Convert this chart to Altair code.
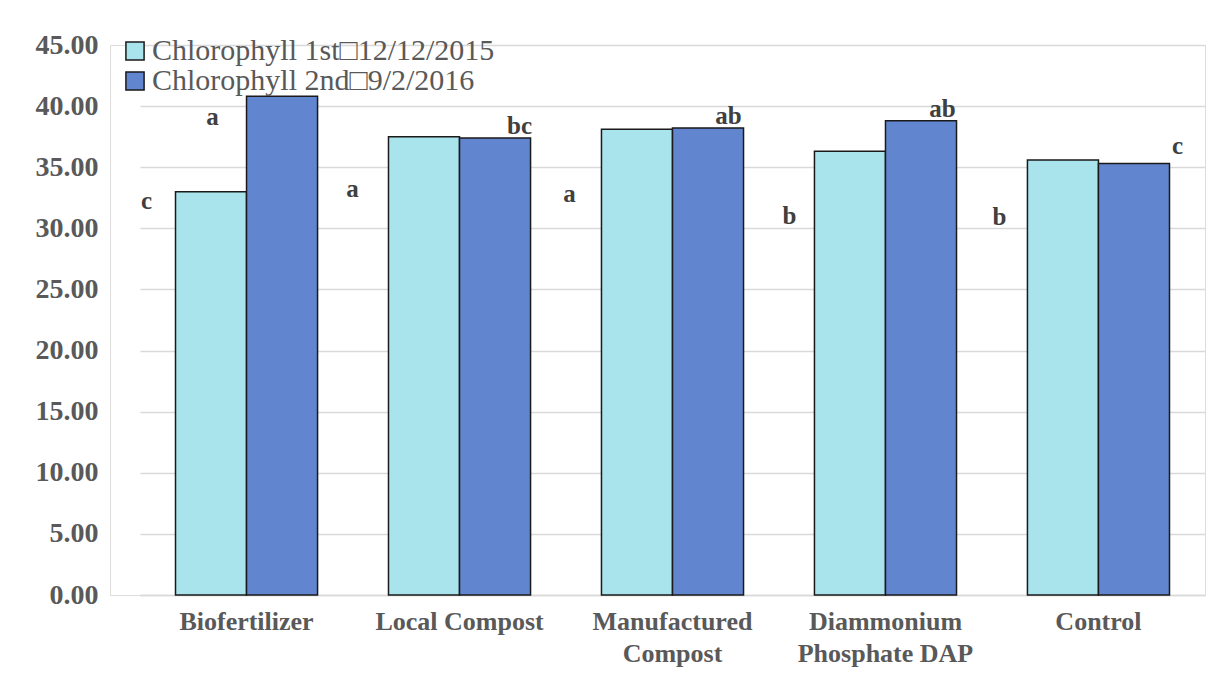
import altair as alt
import pandas as pd

categories = ["Biofertilizer", "Local Compost", "Manufactured Compost",
              "Diammonium Phosphate DAP", "Control"]
series_names = ["Chlorophyll 1st\u25a112/12/2015", "Chlorophyll 2nd\u25a19/2/2016"]
first_values = [33.0, 37.5, 38.1, 36.3, 35.6]
second_values = [40.8, 37.4, 38.2, 38.8, 35.3]
letters_first = ["c", "a", "a", "b", "b"]
letters_first_y = [32.2, 33.2, 32.8, 31.0, 30.9]
letters_second = ["a", "bc", "ab", "ab", "c"]
letters_second_y = [39.1, 38.4, 39.2, 39.8, 36.7]
y_ticks = [0, 5, 10, 15, 20, 25, 30, 35, 40, 45]

rows = []
for c, v1, v2 in zip(categories, first_values, second_values):
    rows.append({"category": c, "series": series_names[0], "value": v1})
    rows.append({"category": c, "series": series_names[1], "value": v2})
df = pd.DataFrame(rows)

FONT = "Liberation Serif"
GRAY = "#595959"

x_scale = alt.Scale(domain=categories, range=[30, 1095], paddingInner=0.333, paddingOuter=0.1667)
y_scale = alt.Scale(domain=[0, 45], nice=False)

label_expr = ("datum.label == 'Manufactured Compost' ? ['Manufactured','Compost'] : "
              "datum.label == 'Diammonium Phosphate DAP' ? ['Diammonium','Phosphate DAP'] : datum.label")

bars = alt.Chart(df).mark_bar(stroke="#1a1a1a", strokeWidth=1.5).encode(
    x=alt.X("category:N", sort=categories, scale=x_scale, title=None,
            axis=alt.Axis(labelAngle=0, labelFont=FONT, labelFontSize=26, labelFontWeight="bold",
                          labelColor=GRAY, ticks=False, domainColor="#d9d9d9", domainWidth=1.5,
                          labelPadding=13, labelLineHeight=32, labelExpr=label_expr,
                          labelBaseline="top", labelLimit=400)),
    xOffset=alt.XOffset("series:N", sort=series_names),
    y=alt.Y("value:Q", scale=y_scale, title=None,
            axis=alt.Axis(values=y_ticks, format=".2f", labelFont=FONT, labelFontSize=28,
                          labelFontWeight="bold", labelColor=GRAY, ticks=False, domain=False,
                          gridColor="#d9d9d9", gridWidth=1.5, labelPadding=12)),
    color=alt.Color("series:N", sort=series_names,
                    scale=alt.Scale(domain=series_names, range=["#a9e3ec", "#6186cf"]),
                    legend=alt.Legend(title=None, orient="none", legendX=10, legendY=-9,
                                      direction="vertical", symbolType="square", symbolSize=330,
                                      symbolStrokeColor="#1a1a1a", symbolStrokeWidth=1.5,
                                      labelFont=FONT, labelFontSize=30, labelColor=GRAY,
                                      labelOffset=2, rowPadding=-3, labelLimit=600)),
)

layers = [bars]
first_dx = [-100, -107, -103, -96, -99]
second_dx = [-34, 60, 56, 57, 79]
for c, t, y, dx in zip(categories, letters_first, letters_first_y, first_dx):
    d = pd.DataFrame({"category": [c], "letter": [t], "y": [y]})
    layers.append(alt.Chart(d).mark_text(font=FONT, fontSize=25, fontWeight="bold",
                                         color="#404040", dx=dx).encode(
        x=alt.X("category:N", sort=categories, scale=x_scale),
        y=alt.Y("y:Q", scale=y_scale), text="letter:N"))
for c, t, y, dx in zip(categories, letters_second, letters_second_y, second_dx):
    d = pd.DataFrame({"category": [c], "letter": [t], "y": [y]})
    layers.append(alt.Chart(d).mark_text(font=FONT, fontSize=25, fontWeight="bold",
                                         color="#404040", dx=dx).encode(
        x=alt.X("category:N", sort=categories, scale=x_scale),
        y=alt.Y("y:Q", scale=y_scale), text="letter:N"))

chart = alt.layer(*layers).properties(
    width=1095, height=550,
    autosize=alt.AutoSizeParams(type="none"),
    padding={"left": 102, "top": 37, "right": 10, "bottom": 72},
).configure_view(stroke=None).configure(background="white")

chart.save("out.html", embed_options={"renderer": "svg", "actions": False})
